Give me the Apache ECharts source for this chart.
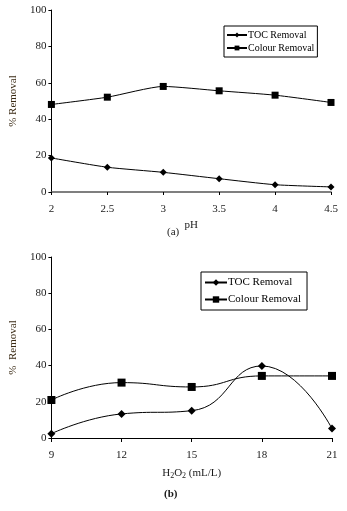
<!DOCTYPE html>
<html>
<head>
<meta charset="utf-8">
<script src="https://cdn.jsdelivr.net/npm/echarts@6/dist/echarts.min.js"></script>
<style>
  html, body { margin: 0; padding: 0; background: #fff; }
  #chart { width: 347px; height: 511px; }
</style>
</head>
<body>
<div id="chart"></div>
<script>
// (a) effect of pH
const phValues = [2, 2.5, 3, 3.5, 4, 4.5];
const tocByPh = [18.7, 13.6, 10.8, 7.3, 4.0, 2.8];
const colourByPh = [48.1, 52.1, 58.0, 55.6, 53.2, 49.2];

// (b) effect of H2O2 dose
const h2o2Values = [9, 12, 15, 18, 21];
const tocByH2o2 = [2.4, 13.3, 15.1, 39.8, 5.2];
const colourByH2o2 = [21.0, 30.6, 28.2, 34.3, 34.3];

const font = 'Liberation Serif';
const txt = '#1a1a1a';

const pairs = (xs, ys) => xs.map((x, i) => [x, ys[i]]);

function yAxis(gridIndex, gap) {
    return {
        type: 'value', gridIndex: gridIndex, min: 0, max: 100, interval: 20,
        name: gridIndex === 0 ? '% Removal' : '%  Removal',
        nameLocation: 'middle', nameGap: gap, nameRotate: 90,
        nameTextStyle: { fontFamily: font, fontSize: 11, color: '#3a2a14' },
        axisLine: { show: true, lineStyle: { color: '#000', width: 1 } },
        axisTick: { show: true, length: 3, lineStyle: { color: '#000' } },
        axisLabel: { fontFamily: font, fontSize: 11, color: txt, margin: 5 },
        splitLine: { show: false }
    };
}

const option = {
    animation: false,
    backgroundColor: '#fff',
    grid: [
        { left: 40, top: 10, right: 16, height: 182 },
        { left: 43, top: 257, right: 15, height: 181 }
    ],
    graphic: [
        { type: 'text', left: 167, top: 227,
          style: { text: '(a)', font: '11px "Liberation Serif"', fill: txt } },
        { type: 'text', left: 164, top: 489,
          style: { text: '(b)', font: 'bold 11px "Liberation Serif"', fill: txt } }
    ],
    legend: [
        {
            data: ['TOC Removal (a)', 'Colour Removal (a)'],
            left: 224, top: 26, orient: 'vertical',
            itemWidth: 20, itemHeight: 6, itemGap: 3,
            padding: [4, 3, 4, 2],
            borderColor: '#000', borderWidth: 1,
            formatter: n => n.replace(' (a)', ''),
            textStyle: { fontFamily: font, fontSize: 10, color: '#000', padding: [0, 0, 0, -4] }
        },
        {
            data: ['TOC Removal (b)', 'Colour Removal (b)'],
            left: 201, top: 272, orient: 'vertical',
            itemWidth: 22, itemHeight: 8, itemGap: 6,
            padding: [5, 6, 5, 3],
            borderColor: '#000', borderWidth: 1,
            formatter: n => n.replace(' (b)', ''),
            textStyle: { fontFamily: font, fontSize: 11, color: '#000', padding: [0, 0, 0, -4] }
        }
    ],
    xAxis: [
        {
            type: 'value', gridIndex: 0, min: 2, max: 4.5, interval: 0.5,
            name: 'pH', nameLocation: 'middle', nameGap: 28,
            nameTextStyle: { fontFamily: font, fontSize: 11, color: txt },
            axisLine: { show: true, lineStyle: { color: '#555', width: 1.5 } },
            axisTick: { show: true, inside: false, length: 3, lineStyle: { color: '#000' } },
            axisLabel: { fontFamily: font, fontSize: 11, color: txt, margin: 12 },
            splitLine: { show: false }
        },
        {
            type: 'value', gridIndex: 1, min: 9, max: 21, interval: 3,
            name: 'H{s|2}O{s|2} (mL/L)', nameLocation: 'middle', nameGap: 28,
            nameTextStyle: { fontFamily: font, fontSize: 11, color: txt,
                rich: { s: { fontFamily: font, fontSize: 8, color: txt, verticalAlign: 'bottom', padding: [6, 0, 0, 0] } } },
            axisLine: { show: true, lineStyle: { color: '#000', width: 1 } },
            axisTick: { show: true, length: 4, lineStyle: { color: '#000' } },
            axisLabel: { fontFamily: font, fontSize: 11, color: txt, margin: 12 },
            splitLine: { show: false }
        }
    ],
    yAxis: [yAxis(0, 25), yAxis(1, 26)],
    series: [
        {
            name: 'TOC Removal (a)', type: 'line', xAxisIndex: 0, yAxisIndex: 0,
            data: pairs(phValues, tocByPh), smooth: 0.2,
            symbol: 'diamond', symbolSize: 7,
            itemStyle: { color: '#000' }, lineStyle: { color: '#000', width: 1 }
        },
        {
            name: 'Colour Removal (a)', type: 'line', xAxisIndex: 0, yAxisIndex: 0,
            data: pairs(phValues, colourByPh), smooth: 0.2,
            symbol: 'rect', symbolSize: 7,
            itemStyle: { color: '#000' }, lineStyle: { color: '#000', width: 1 }
        },
        {
            name: 'TOC Removal (b)', type: 'line', xAxisIndex: 1, yAxisIndex: 1,
            data: pairs(h2o2Values, tocByH2o2), smooth: 0.5,
            symbol: 'diamond', symbolSize: 8,
            itemStyle: { color: '#000' }, lineStyle: { color: '#000', width: 1 }
        },
        {
            name: 'Colour Removal (b)', type: 'line', xAxisIndex: 1, yAxisIndex: 1,
            data: pairs(h2o2Values, colourByH2o2), smooth: 0.5,
            symbol: 'rect', symbolSize: 8,
            itemStyle: { color: '#000' }, lineStyle: { color: '#000', width: 1 }
        }
    ]
};

const chart = echarts.init(document.getElementById('chart'), null, { renderer: 'canvas' });
chart.setOption(option);
</script>
</body>
</html>
